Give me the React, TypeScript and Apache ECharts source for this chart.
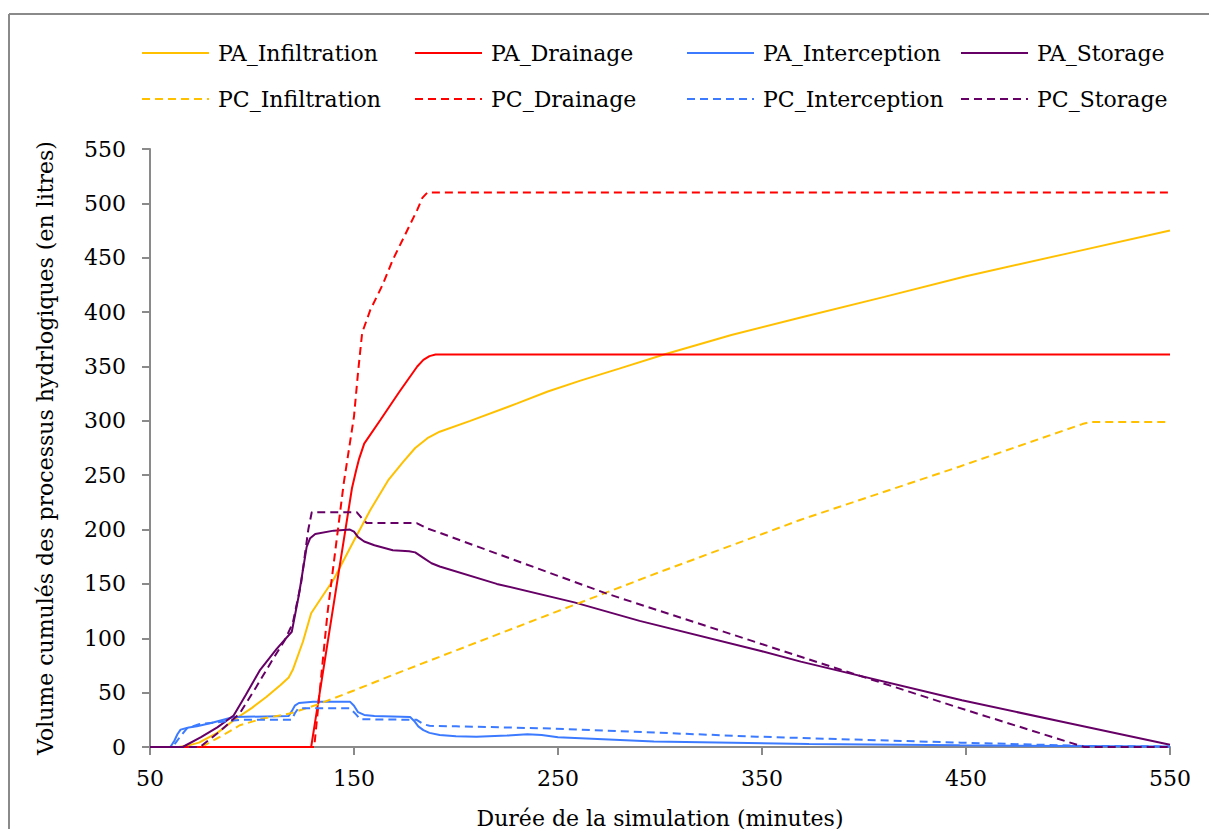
import React, { useEffect, useRef } from "react";
import * as echarts from "echarts";

const xTicks = [50, 150, 250, 350, 450, 550];

const paInfiltration = [
  [50, 0], [64, 0], [69, 1.5], [74, 4], [83, 13], [92, 26], [100, 36], [107, 46], [114, 57], [118, 64],
  [120, 71], [125, 97], [129, 123], [135, 140], [140, 154], [145, 172], [150, 190], [158, 218], [167, 246],
  [174, 262], [180, 275], [186, 284], [192, 290], [207, 300], [230, 316], [245, 327], [261, 337],
  [280, 348], [302, 361], [335, 379], [369, 395], [410, 414], [450, 433], [500, 454], [550, 475],
];
const paDrainage = [
  [50, 0], [129, 0], [149, 238], [151, 254], [152.5, 265], [155, 279], [163, 301], [172, 326], [181, 350],
  [184, 356], [187, 359.5], [190, 361], [192, 361], [550, 361],
];
const paInterception = [
  [50, 0], [60, 0], [62, 6], [63.5, 12], [65, 16], [69, 18], [73, 19], [80, 22], [91, 27.6], [118, 28.5],
  [119.5, 33], [121, 38], [123, 40.5], [130, 41.7], [148, 41.7], [150, 38], [152, 32], [155, 29.5],
  [160, 28.5], [177.5, 27.5], [179.5, 24], [181.5, 19], [184, 15.5], [187, 13], [192, 11], [200, 10],
  [210, 9.5], [225, 10.5], [235, 11.7], [242, 11], [250, 9], [297, 5], [373, 2.7], [447, 1.5], [550, 0.5],
];
const paStorage = [
  [50, 0], [66, 0], [75, 9], [83, 18], [91, 29], [97, 48], [104, 71], [112, 90], [119.5, 106],
  [123, 140], [126.8, 184], [128.5, 192], [131, 196], [140, 199], [148, 200], [150, 198], [152, 193],
  [155, 189], [160, 185.5], [169, 181], [177, 180], [180, 179], [184, 174], [188, 169], [192, 166],
  [220, 150], [258, 133], [290, 116], [350, 88], [369, 78.5], [448, 43], [500, 22], [550, 2],
];
const pcInfiltration = [
  [50, 0], [75, 0], [85, 10], [94, 20], [105, 26], [119, 31], [132, 39], [150, 52], [170, 67],
  [192, 83], [250, 125], [300, 161], [369, 209], [447, 258], [507, 297], [511, 299], [550, 299],
];
const pcDrainage = [
  [50, 0], [130.5, 0], [137, 123], [145, 243], [150, 304], [152, 345], [154, 381], [158, 402],
  [164, 425], [169, 448], [175, 471], [181, 494], [183.5, 505], [186, 510], [550, 510],
];
const pcInterception = [
  [50, 0], [61, 0], [63, 5], [65, 10], [68, 17], [74, 21], [94, 25], [119.5, 25], [121, 31], [122.7, 35.6],
  [148, 35.6], [151, 30], [153, 25.5], [180.7, 25], [184, 21], [187, 19.5], [200, 19], [247.5, 17],
  [347.5, 9.5], [447.5, 4], [508, 1], [550, 0.5],
];
const pcStorage = [
  [50, 0], [74.5, 0], [84, 14], [94, 31], [102, 55], [110, 80], [116, 98], [120, 114], [124, 150],
  [127.6, 200], [129.3, 216], [151.3, 216], [154, 210], [156.2, 206], [180.7, 206], [186, 201],
  [192, 197], [274, 141], [369, 83], [450, 34], [508, 0], [550, 0],
];

const seriesDefs = [
  { name: "PA_Infiltration", data: paInfiltration, color: "#FFC000", dashed: false },
  { name: "PA_Drainage", data: paDrainage, color: "#FF0000", dashed: false },
  { name: "PA_Interception", data: paInterception, color: "#3C7BFF", dashed: false },
  { name: "PA_Storage", data: paStorage, color: "#660066", dashed: false },
  { name: "PC_Infiltration", data: pcInfiltration, color: "#FFC000", dashed: true },
  { name: "PC_Drainage", data: pcDrainage, color: "#FF0000", dashed: true },
  { name: "PC_Interception", data: pcInterception, color: "#3C7BFF", dashed: true },
  { name: "PC_Storage", data: pcStorage, color: "#660066", dashed: true },
];

const FONT = "DejaVu Serif";
const colLeft = [136, 409, 681, 955];
const rowTop = [37, 83];

export default function App() {
  const ref = useRef<HTMLDivElement>(null);
  useEffect(() => {
    if (!ref.current) return;
    const chart = echarts.init(ref.current, null, { renderer: "svg" });
    const legends = seriesDefs.map((s, i) => ({
      data: [s.name],
      left: colLeft[i % 4],
      top: rowTop[Math.floor(i / 4)],
      itemWidth: 67,
      itemHeight: 14,
      itemGap: 10,
      selectedMode: false,
      itemStyle: { opacity: 0, borderWidth: 0 },
      textStyle: { fontFamily: FONT, fontSize: 22, color: "#000", padding: [0, 0, 0, 4] },
    }));
    chart.setOption({
      animation: false,
      backgroundColor: "#fff",
      textStyle: { fontFamily: FONT },
      legend: legends,
      grid: { left: 150, right: 39, top: 149, bottom: 82, containLabel: false, outerBoundsMode: "none" },
      graphic: [
        {
          type: "line",
          shape: { x1: 9, y1: 14, x2: 1209, y2: 14 },
          style: { stroke: "#8a8a8a", lineWidth: 2 },
          silent: true,
        },
        {
          type: "line",
          shape: { x1: 9, y1: 14, x2: 9, y2: 829 },
          style: { stroke: "#8a8a8a", lineWidth: 2 },
          silent: true,
        },
      ],
      xAxis: {
        type: "value",
        min: 50,
        max: 550,
        interval: 100,
        name: "Durée de la simulation (minutes)",
        nameLocation: "middle",
        nameGap: 60,
        nameTextStyle: { fontFamily: FONT, fontSize: 22, color: "#000" },
        axisLine: { show: true, lineStyle: { color: "#8a8a8a", width: 2 } },
        axisTick: { show: true, length: 8, lineStyle: { color: "#8a8a8a", width: 2 }, customValues: xTicks },
        axisLabel: { fontFamily: FONT, fontSize: 22, color: "#000", margin: 20, customValues: xTicks },
        splitLine: { show: false },
      },
      yAxis: {
        type: "value",
        min: 0,
        max: 550,
        interval: 50,
        name: "Volume cumulés des processus hydrlogiques (en litres)",
        nameLocation: "middle",
        nameGap: 94,
        nameTextStyle: { fontFamily: FONT, fontSize: 22, color: "#000" },
        axisLine: { show: true, lineStyle: { color: "#8a8a8a", width: 2 } },
        axisTick: { show: true, length: 8, lineStyle: { color: "#8a8a8a", width: 2 } },
        axisLabel: { fontFamily: FONT, fontSize: 22, color: "#000", margin: 24 },
        splitLine: { show: false },
      },
      series: seriesDefs.map((s) => ({
        name: s.name,
        type: "line",
        data: s.data,
        showSymbol: false,
        symbol: "none",
        smooth: false,
        color: s.color,
        lineStyle: { color: s.color, width: 2, type: s.dashed ? [8, 5] : "solid" },
        emphasis: { disabled: true },
      })),
    });
    return () => chart.dispose();
  }, []);
  return (
    <div
      ref={ref}
      style={{ position: "absolute", left: 0, top: 0, width: 1209, height: 829, background: "#fff" }}
    />
  );
}
